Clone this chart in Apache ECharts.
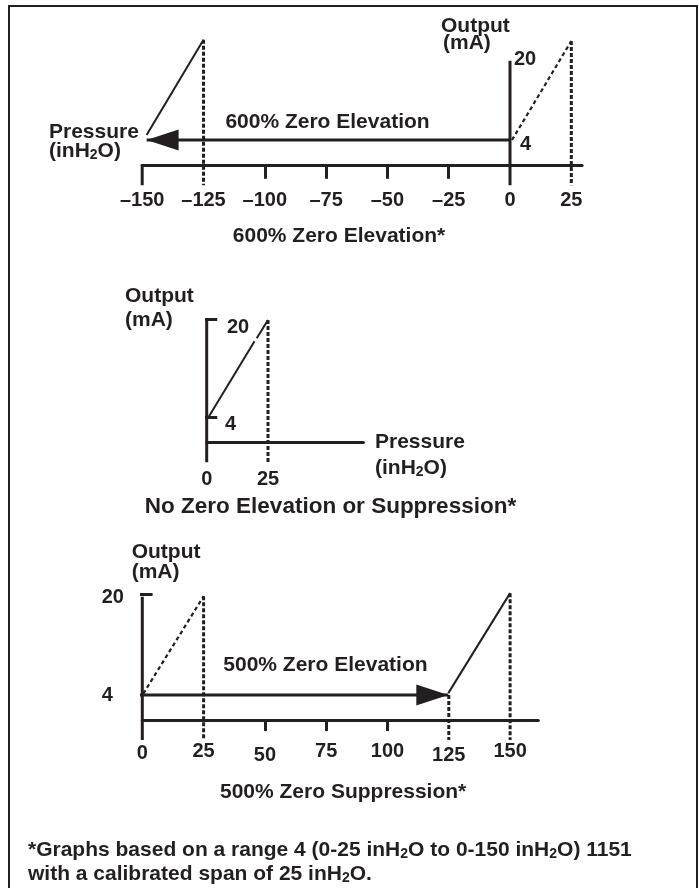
<!DOCTYPE html>
<html><head><meta charset="utf-8">
<script src="https://cdn.jsdelivr.net/npm/echarts@6/dist/echarts.min.js"></script>
<style>html,body{margin:0;padding:0;background:#fff}#c{width:699px;height:888px}</style>
</head><body><div id="c"></div>
<script>
const INK = '#231f20';
const FONT = "'Liberation Sans', Arial, Helvetica, sans-serif";

// ---------- Graph 1: 600% Zero Elevation (x: inH2O, y: mA) ----------
const g1Ticks = [-150, -125, -100, -75, -50, -25, 0, 25];
const g1TickLabels = ['–150', '–125', '–100', '–75', '–50', '–25', '0', '25'];
const g1MinorTicks = [-100, -75, -50, -25];
const g1OutputAxis = [[0, 16.8], [0, -3.3]];
const g1StartMark = [[-150, 0.1], [-150, -3.3]];
const g1ElevArrow = [[0, 4], [-148.2, 4]];
const g1ElevSpan = [[-148.2, 4.8], [-125, 20.2]];
const g1CalSpan = [[0.8, 4], [25, 20]];
const g1DropLow = [[-125, 20.2], [-125, -3.3]];
const g1DropHigh = [[25, 20], [25, -3.3]];

// ---------- Graph 2: No Zero Elevation or Suppression ----------
const g2Ticks = [0, 25];
const g2TickLabels = ['0', '25'];
const g2OutputAxis = [[0, 20.1], [0, -3.3]];
const g2Tick20 = [[-1.1, 20.1], [4.3, 20.1]];
const g2Tick4 = [[-4, 4], [4.3, 4]];
const g2SpanLow = [[0.9, 4.2], [19.5, 16.5]];
const g2SpanHigh = [[20.4, 17.0], [25, 20]];
const g2Drop = [[25, 20], [25, -3.3]];

// ---------- Graph 3: 500% Zero Suppression ----------
const g3Ticks = [0, 25, 50, 75, 100, 125, 150];
const g3TickLabels = ['0', '25', '50', '75', '100', '125', '150'];
const g3MinorTicks = [50, 75, 100];
const g3OutputAxis = [[0, 19.7], [0, -3.2]];
const g3Tick20 = [[-3.7, 20.1], [4.2, 20.1]];
const g3SuppArrow = [[-4.3, 4], [124.8, 4]];
const g3CalSpan = [[0.4, 4.2], [25, 19.8]];
const g3SuppSpan = [[124.8, 4.3], [150, 20.3]];
const g3Drop25 = [[25, 19.8], [25, -3.2]];
const g3Drop125 = [[125, 4], [125, -3.2]];
const g3Drop150 = [[150, 20.3], [150, -3.2]];

function seg(g, pts, width, type) {
  return {
    type: 'line', xAxisIndex: g, yAxisIndex: g, data: pts, symbol: 'none',
    clip: false, silent: true, animation: false,
    lineStyle: { color: INK, width: width, type: type || 'solid', cap: 'butt', opacity: 1 }
  };
}
function arrowHead(g, pt, dir) {
  return {
    type: 'scatter', xAxisIndex: g, yAxisIndex: g, clip: false, silent: true, animation: false,
    symbol: 'triangle', symbolSize: [21, 32],
    itemStyle: { color: INK, opacity: 1 },
    emphasis: { disabled: true },
    data: [{ value: pt, symbolRotate: dir < 0 ? 90 : -90, symbolOffset: [dir < 0 ? 16 : -16, 0] }]
  };
}
function lbl(map) {
  return function (v) { const i = map.vals.indexOf(v); return i < 0 ? '' : map.fmt(map.labels[i], v); };
}
function txt(x, y, s, size, align, extra) {
  return {
    type: 'text', x: x, y: y, silent: true,
    style: Object.assign({
      text: s, fill: INK, fontFamily: FONT, fontWeight: 'bold', fontSize: size || 21,
      align: align || 'left', verticalAlign: 'middle',
      textAlign: align || 'left', textVerticalAlign: 'middle',
      rich: {
        s: { fontFamily: FONT, fontWeight: 'bold', fontSize: 14, fill: INK, padding: [9, 0, 0, 0] }
      }
    }, extra || {})
  };
}

const baseX = {
  type: 'value', splitLine: { show: false },
  axisLine: { show: true, lineStyle: { color: INK, width: 3 } },
  axisLabel: { color: INK, fontFamily: FONT, fontWeight: 'bold', fontSize: 20 }
};

const option = {
  animation: false,
  backgroundColor: '#fff',
  grid: [
    { left: 142.2, top: 41, width: 439.9, height: 132 },
    { left: 206.7, top: 320, width: 156.7, height: 131.6 },
    { left: 142.3, top: 595, width: 396, height: 134.3 }
  ],
  xAxis: [
    Object.assign({}, baseX, {
      gridIndex: 0, min: -150, max: 29.4,
      axisTick: { show: true, customValues: g1MinorTicks, length: 14, lineStyle: { color: INK, width: 3 } },
      axisLabel: Object.assign({}, baseX.axisLabel, {
        customValues: g1Ticks, margin: 17,
        formatter: lbl({ vals: g1Ticks, labels: g1TickLabels, fmt: (t) => t })
      })
    }),
    Object.assign({}, baseX, {
      gridIndex: 1, min: 0, max: 63.9,
      axisTick: { show: false },
      axisLabel: Object.assign({}, baseX.axisLabel, {
        customValues: g2Ticks, margin: 18,
        formatter: lbl({ vals: g2Ticks, labels: g2TickLabels, fmt: (t) => t })
      })
    }),
    Object.assign({}, baseX, {
      gridIndex: 2, min: 0, max: 161.5,
      axisTick: { show: true, customValues: g3MinorTicks, length: 11, lineStyle: { color: INK, width: 3 } },
      axisLabel: Object.assign({}, baseX.axisLabel, {
        customValues: g3Ticks, margin: 12,
        formatter: lbl({ vals: g3Ticks, labels: g3TickLabels,
          fmt: (t, v) => (v === 50 || v === 125) ? '{lo|' + t + '}' : (v === 0 ? '{md|' + t + '}' : t) }),
        rich: {
          lo: { fontFamily: FONT, fontWeight: 'bold', fontSize: 20, color: INK, padding: [4, 0, 0, 0] },
          md: { fontFamily: FONT, fontWeight: 'bold', fontSize: 20, color: INK, padding: [2, 0, 0, 0] }
        }
      })
    })
  ],
  yAxis: [
    { type: 'value', gridIndex: 0, min: -1.33, max: 20, show: false },
    { type: 'value', gridIndex: 1, min: -1.57, max: 20, show: false },
    { type: 'value', gridIndex: 2, min: -1.49, max: 20, show: false }
  ],
  series: [
    // graph 1
    seg(0, g1OutputAxis, 3),
    seg(0, g1StartMark, 3),
    seg(0, g1ElevArrow, 3),
    arrowHead(0, g1ElevArrow[1], -1),
    seg(0, g1ElevSpan, 2),
    seg(0, g1CalSpan, 2.2, [4, 3]),
    seg(0, g1DropLow, 3, [4, 2]),
    seg(0, g1DropHigh, 3, [4, 2]),
    // graph 2
    seg(1, g2OutputAxis, 3),
    seg(1, g2Tick20, 3),
    seg(1, g2Tick4, 3),
    seg(1, g2SpanLow, 2),
    seg(1, g2SpanHigh, 2),
    seg(1, g2Drop, 3, [4, 2]),
    // graph 3
    seg(2, g3OutputAxis, 3),
    seg(2, g3Tick20, 3),
    seg(2, g3SuppArrow, 3),
    arrowHead(2, g3SuppArrow[1], 1),
    seg(2, g3CalSpan, 2.2, [4, 3]),
    seg(2, g3SuppSpan, 2),
    seg(2, g3Drop25, 3, [4, 2]),
    seg(2, g3Drop125, 3, [4, 2]),
    seg(2, g3Drop150, 3, [4, 2])
  ],
  graphic: [
    { type: 'rect', silent: true, shape: { x: 9, y: 6, width: 688, height: 900 },
      style: { fill: 'none', stroke: INK, lineWidth: 2 } },
    // graph 1 texts
    txt(441, 26, 'Output'), txt(443, 43, '(mA)'),
    txt(514, 59, '20', 20), txt(520, 144, '4', 20),
    txt(49, 132, 'Pressure'), txt(49, 151, '(inH{s|2}O)'),
    txt(327.5, 122, '600% Zero Elevation', 21, 'center'),
    txt(339, 236, '600% Zero Elevation*', 21, 'center'),
    // graph 2 texts
    txt(125, 296, 'Output'), txt(125, 320, '(mA)'),
    txt(227, 327, '20', 20), txt(225, 424, '4', 20),
    txt(375, 442, 'Pressure'), txt(375, 468, '(inH{s|2}O)'),
    txt(330.5, 507, 'No Zero Elevation or Suppression*', 22.5, 'center'),
    // graph 3 texts
    txt(131.7, 552, 'Output'), txt(131.7, 572, '(mA)'),
    txt(101.7, 597, '20', 20), txt(101.7, 695, '4', 20),
    txt(223.3, 665, '500% Zero Elevation'),
    txt(220, 792, '500% Zero Suppression*'),
    // footnote
    txt(28, 850, '*Graphs based on a range 4 (0-25 inH{s|2}O to 0-150 inH{s|2}O) 1151', 21),
    txt(28, 874, 'with a calibrated span of 25 inH{s|2}O.', 21)
  ]
};
const chart = echarts.init(document.getElementById('c'), null, { renderer: 'canvas' });
chart.setOption(option);
</script></body></html>
